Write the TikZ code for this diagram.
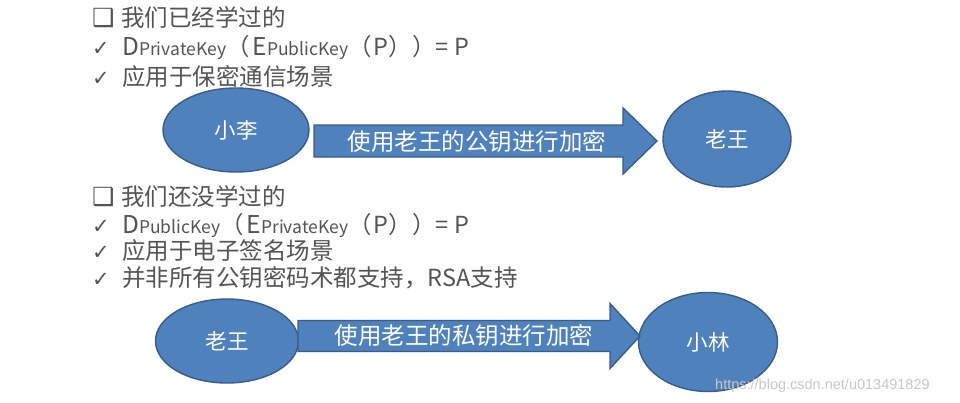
\documentclass[tikz,border=0pt]{standalone}
\usepackage{fontspec}
\setmainfont{Noto Sans CJK SC}
\newfontfamily\symfont{DejaVu Sans}
\newfontfamily\markfont{Liberation Sans}
\usepackage{xcolor}
\usepackage{tikz}
\usetikzlibrary{shapes.geometric, calc}
\definecolor{nodeblue}{RGB}{79, 129, 189}
\definecolor{edgeblue}{RGB}{56, 93, 138}
\definecolor{textgray}{RGB}{84, 84, 84}
\definecolor{markgray}{RGB}{200, 200, 200}
\newcommand{\boxitem}{\makebox[29pt][l]{\symfont\fontsize{25}{25}\selectfont ❑}}
\newcommand{\tickitem}{\makebox[30pt][l]{\symfont\fontsize{21}{21}\selectfont ✓}}
\newcommand{\keyop}[2]{{\fontsize{24.5}{24}\selectfont #1}{\fontsize{17.5}{18}\selectfont #2}}
\newcommand{\fatarrow}[5]{% tail, tip, shaft half width, head half width, head length
  \draw[arrowshape] ($(#1)+(0,-#3)$) -- ($(#2)+(-#5,-#3)$) -- ($(#2)+(-#5,-#4)$)
    -- (#2) -- ($(#2)+(-#5,#4)$) -- ($(#2)+(-#5,#3)$) -- ($(#1)+(0,#3)$) -- cycle;
}

\begin{document}
\begin{tikzpicture}[x=1pt, y=-1pt,
    person/.style={ellipse, draw=edgeblue, fill=nodeblue, line width=1.4pt,
      text=white, font=\fontsize{21.5}{22}\selectfont, inner sep=0pt},
    arrowshape/.style={draw=edgeblue, fill=nodeblue, line width=1.4pt, line join=miter},
    arrowlabel/.style={text=white, font=\fontsize{23.5}{24}\selectfont, inner sep=0pt},
    item/.style={anchor=base west, text=textgray, font=\fontsize{23.5}{24}\selectfont, inner sep=0pt}]
  \useasboundingbox (0,0) rectangle (960,402);
  \fill[white] (0,0) rectangle (960,402);
  % What we have learned
  \node[item] (learned) at (92,26) {\boxitem 我们已经学过的};
  \node[item] (formula1) at (92,55) {\tickitem \keyop{D}{PrivateKey}（\hspace{3pt}\keyop{E}{PublicKey}（\hspace{2pt}P））= P};
  \node[item] (usage1) at (92,85) {\tickitem 应用于保密通信场景};
  % Encrypting with the public key
  \node[person, minimum width=146pt, minimum height=84pt] (lee) at (236,130) {小李};
  \node[person, minimum width=128pt, minimum height=96pt] (wang) at (727,139) {老王};
  \coordinate (enctail) at (314,141);
  \coordinate (enctip) at (657,141);
  \fatarrow{enctail}{enctip}{16}{33}{34}
  \node[arrowlabel] (pubenc) at (477,142) {使用老王的公钥进行加密};
  % What we have not learned yet
  \node[item] (notlearned) at (92,205) {\boxitem 我们还没学过的};
  \node[item] (formula2) at (92,233) {\tickitem \keyop{D}{PublicKey}（\hspace{3pt}\keyop{E}{PrivateKey}（\hspace{2pt}P））= P};
  \node[item] (usage2) at (92,259) {\tickitem 应用于电子签名场景};
  \node[item] (support) at (92,286) {\tickitem 并非所有公钥密码术都支持，RSA支持};
  % Encrypting with the private key
  \node[person, minimum width=143pt, minimum height=84pt] (wang2) at (227,341) {老王};
  \node[person, minimum width=139pt, minimum height=99pt] (lin) at (708,342) {小林};
  \coordinate (signtail) at (298,336);
  \coordinate (signtip) at (640,336);
  \fatarrow{signtail}{signtip}{15.5}{32.5}{30}
  \node[arrowlabel] (prienc) at (464,336) {使用老王的私钥进行加密};
  % Watermark
  \node[anchor=base west, text=markgray, font=\markfont\fontsize{14.5}{15}\selectfont, inner sep=0pt]
    (mark) at (715,389) {https://blog.csdn.net/u013491829};
\end{tikzpicture}
\end{document}
